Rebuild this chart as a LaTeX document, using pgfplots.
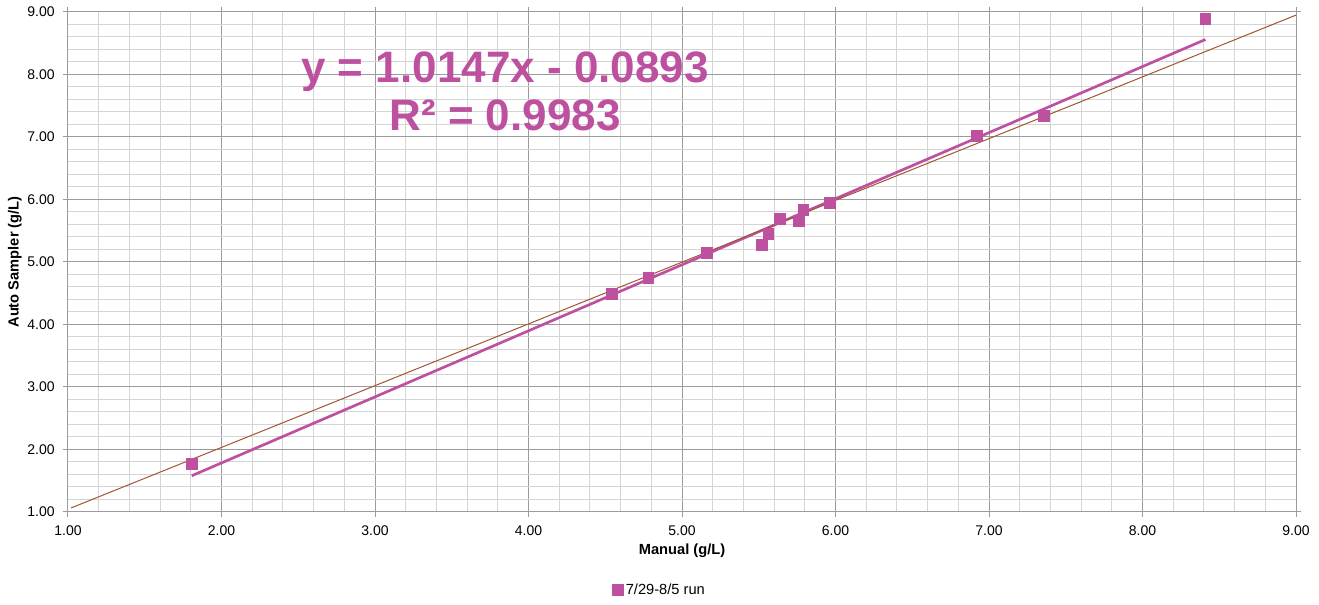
\documentclass[border=0pt]{standalone}
\usepackage{pgfplots}
\pgfplotsset{compat=1.18}
\usepackage{fontspec}
\setmainfont{Liberation Sans}
\definecolor{mag}{RGB}{190,80,160}
\definecolor{brn}{RGB}{160,85,50}
\definecolor{majg}{RGB}{155,155,155}
\definecolor{ming}{RGB}{212,212,212}
\begin{document}
\begin{tikzpicture}
\begin{axis}[
  scale only axis, width=921pt, height=375pt,
  xmin=1, xmax=9, ymin=1, ymax=9,
  xtick={1,2,3,4,5,6,7,8,9}, ytick={1,2,3,4,5,6,7,8,9},
  minor tick num=4,
  grid=both,
  major grid style={draw=majg, line width=0.75pt},
  minor grid style={draw=ming, line width=0.75pt},
  axis line style={draw=majg, line width=0.75pt},
  tick align=outside, major tick length=4pt, minor tick length=0pt,
  tick style={draw=majg, line width=0.75pt},
  /pgf/number format/fixed,
  /pgf/number format/fixed zerofill,
  /pgf/number format/precision=2,
  /pgf/number format/assume math mode=true,
  tick label style={font=\fontsize{10.5}{12}\selectfont},
  xticklabel style={yshift=-2.5pt},
  yticklabel style={xshift=-2.5pt},
  xlabel={Manual (g/L)},
  ylabel={Auto Sampler (g/L)},
  every axis x label/.style={at={(axis description cs:0.5,-0.078)},anchor=center,
    font=\fontsize{11}{13}\selectfont\bfseries},
  every axis y label/.style={at={(axis description cs:-0.0432,0.5)},anchor=center,rotate=90,
    font=\fontsize{11}{13}\selectfont\bfseries},
  legend style={at={(axis description cs:0.482,-0.156)},anchor=center,draw=none,
    font=\fontsize{11}{13}\selectfont},
  legend cell align=left,
]
\addplot[only marks, mark=square*, mark size=4.1pt, mark options={draw=mag,fill=mag}]
  coordinates {
  (1.808,1.766) (4.545,4.485) (4.780,4.755) (5.161,5.155) (5.519,5.283)
  (5.562,5.459) (5.638,5.688) (5.762,5.661) (5.790,5.843) (5.960,5.949)
  (6.920,7.016) (7.358,7.341) (8.409,8.899)
  };
\addlegendentry{7/29-8/5 run}
\addplot[mag, line width=2pt, forget plot] coordinates {(1.806,1.58) (8.41,8.56)};
\addplot[brn, line width=0.75pt, forget plot] coordinates {(1.02,1.065) (9,8.95)};
\node[anchor=base, text=mag, font=\fontsize{33}{40}\selectfont\bfseries]
  at (axis cs:3.847,7.864) {y = 1.0147x - 0.0893};
\node[anchor=base, text=mag, font=\fontsize{33}{40}\selectfont\bfseries]
  at (axis cs:3.847,7.096) {R² = 0.9983};
\end{axis}
\pgfresetboundingbox
\useasboundingbox (-51pt,-69.75pt) rectangle (938.25pt,384pt);
\end{tikzpicture}
\end{document}
